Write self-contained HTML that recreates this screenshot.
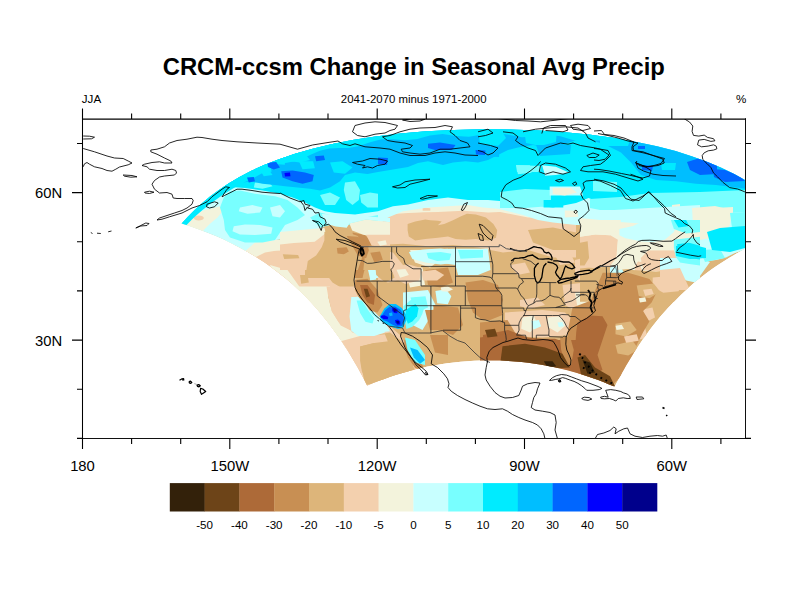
<!DOCTYPE html><html><head><meta charset="utf-8"><style>html,body{margin:0;padding:0;background:#fff;}body{width:792px;height:612px;overflow:hidden;position:relative;font-family:"Liberation Sans",sans-serif;}svg{position:absolute;left:0;top:0;}</style></head><body><svg width="792" height="612" viewBox="0 0 792 612"><defs><clipPath id="fr"><rect x="82.5" y="118.9" width="663.0" height="319.5"/></clipPath><clipPath id="dm"><polygon points="181.6,223.6 187.8,216.8 194.5,210.0 201.9,203.3 209.9,196.6 218.8,190.0 228.5,183.5 239.1,177.2 250.9,171.0 264.0,165.1 278.4,159.4 294.3,153.9 311.8,148.9 331.2,144.2 352.3,140.1 375.3,136.5 400.1,133.6 426.3,131.3 453.8,129.9 481.9,129.2 510.2,129.4 538.0,130.4 565.0,132.2 590.6,134.8 614.5,138.1 636.7,141.9 657.0,146.3 675.6,151.1 692.4,156.4 707.6,161.9 721.3,167.8 733.8,173.8 745.0,180.1 755.3,186.5 764.6,193.0 773.0,199.6 780.7,206.3 787.8,213.1 794.3,219.9 800.3,226.7 800.3,226.7 791.2,229.6 782.5,232.6 774.1,235.8 766.0,239.1 758.2,242.6 750.6,246.1 743.4,249.8 736.5,253.6 729.8,257.5 723.4,261.4 717.2,265.4 711.3,269.5 705.6,273.7 700.2,277.9 695.0,282.1 690.0,286.4 685.1,290.7 680.5,295.1 676.1,299.5 671.8,303.9 667.7,308.3 663.7,312.7 659.9,317.1 656.3,321.6 652.7,326.0 649.3,330.5 646.1,334.9 642.9,339.3 639.9,343.7 637.0,348.1 634.1,352.5 631.4,356.9 628.8,361.2 626.2,365.6 623.7,369.9 621.4,374.1 619.0,378.4 616.8,382.6 614.6,386.8 614.6,386.8 609.1,384.4 603.4,382.1 597.6,379.8 591.7,377.7 585.7,375.7 579.6,373.7 573.5,371.9 567.2,370.2 560.9,368.7 554.5,367.2 548.0,365.9 541.5,364.8 534.9,363.7 528.3,362.8 521.6,362.0 514.9,361.4 508.1,361.0 501.3,360.6 494.5,360.4 487.8,360.4 481.0,360.5 474.2,360.8 467.4,361.2 460.7,361.7 454.0,362.4 447.3,363.3 440.7,364.3 434.1,365.4 427.6,366.6 421.2,368.0 414.9,369.5 408.6,371.2 402.4,372.9 396.3,374.8 390.2,376.8 384.3,378.9 378.5,381.1 372.7,383.3 367.1,385.7 367.1,385.7 365.0,381.5 362.8,377.2 360.5,372.9 358.1,368.6 355.7,364.3 353.2,359.9 350.6,355.5 347.9,351.1 345.1,346.7 342.2,342.3 339.2,337.8 336.1,333.4 332.8,328.9 329.5,324.4 326.0,319.9 322.3,315.4 318.6,311.0 314.7,306.5 310.6,302.0 306.3,297.6 301.9,293.1 297.3,288.7 292.5,284.3 287.5,280.0 282.3,275.7 276.8,271.4 271.2,267.2 265.3,263.1 259.1,259.0 252.7,255.0 246.0,251.0 239.0,247.2 231.7,243.4 224.2,239.8 216.3,236.3 208.1,232.9 199.6,229.7 190.7,226.6 181.6,223.6"/></clipPath></defs><g clip-path="url(#fr)"><g clip-path="url(#dm)"><polygon points="181.6,223.6 187.8,216.8 194.5,210.0 201.9,203.3 209.9,196.6 218.8,190.0 228.5,183.5 239.1,177.2 250.9,171.0 264.0,165.1 278.4,159.4 294.3,153.9 311.8,148.9 331.2,144.2 352.3,140.1 375.3,136.5 400.1,133.6 426.3,131.3 453.8,129.9 481.9,129.2 510.2,129.4 538.0,130.4 565.0,132.2 590.6,134.8 614.5,138.1 636.7,141.9 657.0,146.3 675.6,151.1 692.4,156.4 707.6,161.9 721.3,167.8 733.8,173.8 745.0,180.1 755.3,186.5 764.6,193.0 773.0,199.6 780.7,206.3 787.8,213.1 794.3,219.9 800.3,226.7 800.3,226.7 791.2,229.6 782.5,232.6 774.1,235.8 766.0,239.1 758.2,242.6 750.6,246.1 743.4,249.8 736.5,253.6 729.8,257.5 723.4,261.4 717.2,265.4 711.3,269.5 705.6,273.7 700.2,277.9 695.0,282.1 690.0,286.4 685.1,290.7 680.5,295.1 676.1,299.5 671.8,303.9 667.7,308.3 663.7,312.7 659.9,317.1 656.3,321.6 652.7,326.0 649.3,330.5 646.1,334.9 642.9,339.3 639.9,343.7 637.0,348.1 634.1,352.5 631.4,356.9 628.8,361.2 626.2,365.6 623.7,369.9 621.4,374.1 619.0,378.4 616.8,382.6 614.6,386.8 614.6,386.8 609.1,384.4 603.4,382.1 597.6,379.8 591.7,377.7 585.7,375.7 579.6,373.7 573.5,371.9 567.2,370.2 560.9,368.7 554.5,367.2 548.0,365.9 541.5,364.8 534.9,363.7 528.3,362.8 521.6,362.0 514.9,361.4 508.1,361.0 501.3,360.6 494.5,360.4 487.8,360.4 481.0,360.5 474.2,360.8 467.4,361.2 460.7,361.7 454.0,362.4 447.3,363.3 440.7,364.3 434.1,365.4 427.6,366.6 421.2,368.0 414.9,369.5 408.6,371.2 402.4,372.9 396.3,374.8 390.2,376.8 384.3,378.9 378.5,381.1 372.7,383.3 367.1,385.7 367.1,385.7 365.0,381.5 362.8,377.2 360.5,372.9 358.1,368.6 355.7,364.3 353.2,359.9 350.6,355.5 347.9,351.1 345.1,346.7 342.2,342.3 339.2,337.8 336.1,333.4 332.8,328.9 329.5,324.4 326.0,319.9 322.3,315.4 318.6,311.0 314.7,306.5 310.6,302.0 306.3,297.6 301.9,293.1 297.3,288.7 292.5,284.3 287.5,280.0 282.3,275.7 276.8,271.4 271.2,267.2 265.3,263.1 259.1,259.0 252.7,255.0 246.0,251.0 239.0,247.2 231.7,243.4 224.2,239.8 216.3,236.3 208.1,232.9 199.6,229.7 190.7,226.6 181.6,223.6" fill="#DDB57A"/><polygon points="242.5,250.0 267.5,250.0 292.5,251.2 310.0,247.5 320.0,245.0 320.0,278.0 255.0,278.0 242.5,265.0" fill="#F3D0AE"/>
<polygon points="378.0,205.0 576.0,205.0 576.0,257.5 553.0,257.5 528.0,250.0 503.0,252.5 478.0,247.5 453.0,245.0 428.0,246.2 403.0,243.8 378.0,245.0" fill="#F3D0AE"/>
<polygon points="225.0,245.0 325.0,245.0 335.0,235.0 357.5,235.0 355.0,285.0 360.0,300.0 400.0,335.0 425.0,375.0 425.0,390.0 325.0,390.0 225.0,285.0" fill="#F3D0AE"/>
<polygon points="575.0,260.0 595.0,255.0 620.0,250.0 655.0,250.0 678.0,250.0 678.0,275.0 655.0,287.5 635.0,290.0 620.0,295.0 600.0,295.0 585.0,287.5 575.0,275.0" fill="#F3D0AE"/>
<polygon points="562.5,285.0 585.0,282.5 600.0,290.0 597.5,312.5 580.0,313.8 565.0,305.0" fill="#F3D0AE"/>
<polygon points="505.0,312.5 542.5,310.0 565.0,312.5 575.0,322.5 570.0,335.0 542.5,337.5 515.0,336.2 505.0,325.0" fill="#F3D0AE"/>
<polygon points="510.0,265.0 525.0,262.5 530.0,272.5 517.5,275.0" fill="#F3D0AE"/>
<polygon points="555.0,255.0 570.0,252.5 575.0,262.5 560.0,265.0" fill="#F3D0AE"/>
<polygon points="520.0,300.0 537.5,297.5 545.0,305.0 530.0,308.8 520.0,306.2" fill="#F3D0AE"/>
<polygon points="610.0,320.0 622.5,318.8 630.0,325.0 625.0,333.8 612.5,332.5" fill="#F3D0AE"/>
<polygon points="630.0,285.0 645.0,283.8 655.0,290.0 652.5,300.0 635.0,300.0" fill="#F3D0AE"/>
<polygon points="615.0,345.0 630.0,342.5 635.0,350.0 625.0,357.5 616.2,355.0" fill="#F3D0AE"/>
<polygon points="640.0,310.0 652.5,307.5 655.0,317.5 645.0,322.5 638.8,318.8" fill="#F3D0AE"/>
<polygon points="620.0,300.0 630.0,298.8 632.5,306.2 622.5,308.8" fill="#F3D0AE"/>
<polygon points="655.0,280.0 665.0,277.5 670.0,285.0 660.0,290.0" fill="#F3D0AE"/>
<polygon points="635.0,330.0 645.0,327.5 647.5,337.5 637.5,340.0" fill="#F3D0AE"/>
<polygon points="237.5,250.0 255.0,242.5 280.0,240.0 297.5,237.5 312.5,235.0 320.0,232.5 323.8,242.5 310.0,247.5 292.5,251.2 267.5,250.0 250.0,252.5" fill="#F3F3DC"/>
<polygon points="295.0,257.0 294.4,258.0 292.8,258.8 290.4,259.3 287.5,259.5 284.6,259.3 282.2,258.8 280.6,258.0 280.0,257.0 280.6,256.0 282.2,255.2 284.6,254.7 287.5,254.5 290.4,254.7 292.8,255.2 294.4,256.0" fill="#DDB57A"/>
<polygon points="301.2,255.0 300.9,255.8 299.8,256.4 298.2,256.8 296.2,257.0 294.3,256.8 292.7,256.4 291.6,255.8 291.2,255.0 291.6,254.2 292.7,253.6 294.3,253.2 296.2,253.0 298.2,253.2 299.8,253.6 300.9,254.2" fill="#DDB57A"/>
<polygon points="315.0,230.0 325.0,225.0 335.0,222.5 345.0,228.8 355.0,235.0 361.2,242.5 360.0,255.0 355.0,278.0 305.0,278.0 305.0,267.5 310.0,255.0 313.8,242.5" fill="#DDB57A"/>
<polygon points="378.0,200.0 576.0,200.0 576.0,215.0 528.0,217.5 490.5,210.0 453.0,210.0 415.5,212.5 378.0,215.0" fill="#F3F3DC"/>
<polygon points="374.7,202.5 513.6,202.5 513.6,211.3 488.4,212.6 463.1,210.7 437.9,211.9 412.6,212.6 374.7,212.6" fill="#F3F3DC"/>
<polygon points="225.0,240.0 325.0,240.0 320.0,250.0 300.0,252.5 280.0,250.0 265.0,252.5 250.0,260.0 225.0,265.0" fill="#F3F3DC"/>
<polygon points="270.0,265.0 287.5,270.0 300.0,287.5 312.5,295.0 325.0,310.0 335.0,320.0 350.0,330.0 355.0,340.0 350.0,352.5 332.5,340.0 315.0,322.5 295.0,300.0 275.0,280.0" fill="#F3F3DC"/>
<polygon points="345.0,330.0 360.0,335.0 367.5,332.5 370.0,340.0 360.0,345.0 350.0,340.0" fill="#F3F3DC"/>
<polygon points="597.5,260.0 620.0,255.0 635.0,260.0 635.0,275.0 625.0,285.0 610.0,287.5 600.0,280.0" fill="#F3F3DC"/>
<polygon points="640.0,265.0 655.0,260.0 678.0,260.0 678.0,272.5 660.0,280.0 645.0,277.5" fill="#F3F3DC"/>
<polygon points="575.0,292.5 590.0,290.0 595.0,300.0 590.0,310.0 577.5,307.5" fill="#F3F3DC"/>
<polygon points="522.5,317.5 533.8,315.5 537.5,325.0 530.0,332.5 521.2,328.8" fill="#F3F3DC"/>
<polygon points="547.5,317.5 560.0,316.2 566.2,325.0 557.5,332.5 548.8,327.5" fill="#F3F3DC"/>
<polygon points="613.8,322.5 620.0,322.0 622.5,327.5 616.2,329.5" fill="#F3F3DC"/>
<polygon points="635.0,287.5 642.5,287.0 645.0,292.5 637.5,295.0" fill="#F3F3DC"/>
<polygon points="620.0,348.8 627.5,347.5 628.8,352.5 621.2,353.8" fill="#F3F3DC"/>
<polygon points="422.7,207.5 430.3,208.2 430.3,210.7 422.7,210.7" fill="#F3D0AE"/>
<polygon points="528.0,230.0 553.0,227.5 576.0,232.5 576.0,250.0 553.0,250.0 533.0,242.5" fill="#DDB57A"/>
<polygon points="407.6,223.9 415.2,221.4 425.3,219.5 430.3,220.2 437.9,220.8 441.7,221.4 437.9,225.2 444.2,223.9 453.0,220.2 460.6,216.4 466.9,213.8 475.8,214.5 485.9,217.6 493.4,223.9 497.2,230.3 496.0,237.8 488.4,240.4 475.8,239.1 465.7,239.7 455.6,239.1 448.0,236.6 437.9,237.8 425.3,239.1 415.2,240.4 408.8,236.6 407.6,230.3" fill="#DDB57A"/>
<polygon points="307.5,255.0 322.5,245.0 332.5,237.5 355.0,237.5 357.5,250.0 355.0,267.5 353.8,287.5 345.0,290.0 332.5,282.5 325.0,272.5 312.5,265.0" fill="#DDB57A"/>
<polygon points="282.5,253.8 293.8,252.5 295.0,258.8 283.8,260.0" fill="#DDB57A"/>
<polygon points="300.0,275.0 307.5,275.0 308.8,282.5 301.2,283.8" fill="#DDB57A"/>
<polygon points="360.0,345.0 375.0,335.0 390.0,332.5 400.0,340.0 407.5,355.0 415.0,370.0 410.0,380.0 385.0,382.5 365.0,385.0 361.2,365.0" fill="#DDB57A"/>
<polygon points="325.0,295.0 332.5,292.5 340.0,300.0 332.5,307.5 325.0,305.0" fill="#DDB57A"/>
<polygon points="150.0,240.0 150.0,100.0 800.0,100.0 800.0,248.0 745.5,248.8 736.0,252.5 726.0,257.5 716.0,260.0 706.0,261.2 696.0,260.0 686.0,255.0 681.0,245.0 671.0,237.5 661.0,230.0 651.0,221.2 636.0,218.8 621.0,220.0 606.0,221.2 591.0,225.0 576.0,225.0 553.0,222.5 538.0,220.0 523.0,215.0 508.0,211.2 498.0,208.8 483.0,207.5 468.0,205.0 448.0,206.2 428.0,207.5 403.0,211.2 388.0,217.5 378.0,225.0 370.0,225.0 355.0,220.0 342.5,217.5 330.0,221.2 320.0,230.0 312.5,235.0 297.5,237.5 280.0,239.5 255.0,242.5 245.0,251.2 240.0,262.0" fill="#C8FFFF"/>
<polygon points="332.5,245.0 345.0,244.5 350.0,250.0 342.5,255.5 333.8,253.8" fill="#C88F53"/>
<polygon points="352.5,232.5 365.0,235.0 372.5,242.5 378.0,245.0 378.0,265.0 365.0,265.0 360.0,255.0 355.0,245.0" fill="#C88F53"/>
<polygon points="355.0,265.0 365.0,267.5 362.5,278.0 355.0,278.0" fill="#C88F53"/>
<polygon points="180.0,222.5 190.0,215.0 205.0,210.0 220.0,206.2 222.5,211.2 217.5,217.5 210.0,223.8 203.8,230.0 201.2,235.0 180.0,235.0" fill="#F3F3DC"/>
<polygon points="203.8,218.0 203.4,219.0 202.3,219.8 200.7,220.3 198.8,220.5 196.8,220.3 195.2,219.8 194.1,219.0 193.8,218.0 194.1,217.0 195.2,216.2 196.8,215.7 198.8,215.5 200.7,215.7 202.3,216.2 203.4,217.0" fill="#F3D0AE"/>
<polygon points="220.0,207.5 223.8,197.5 230.0,191.2 240.0,190.5 255.0,193.8 275.0,196.2 287.5,200.0 297.5,207.5 305.0,215.0 297.5,220.0 285.0,225.0 280.0,232.5 275.0,240.0 262.5,242.5 245.0,242.5 230.0,237.5 225.0,230.0 223.8,220.0" fill="#78FFFF"/>
<polygon points="310.0,217.5 320.0,212.5 330.0,215.0 340.0,218.8 352.5,220.0 365.0,217.5 378.0,215.0 378.0,225.0 365.0,227.5 352.5,225.0 340.0,223.8 330.0,225.0 320.0,227.5" fill="#78FFFF"/>
<polygon points="233.8,226.2 245.0,224.5 260.0,225.0 272.5,227.5 271.2,233.8 255.0,235.0 240.0,234.5 232.5,231.2" fill="#C8FFFF"/>
<polygon points="240.0,207.5 252.5,205.0 262.5,207.5 260.0,212.5 247.5,213.8 238.8,211.2" fill="#C8FFFF"/>
<polygon points="270.0,207.5 280.0,205.0 285.0,211.2 280.0,217.5 272.5,216.2" fill="#C8FFFF"/>
<polygon points="150.0,240.0 150.0,100.0 800.0,100.0 800.0,195.0 745.5,195.0 736.0,195.0 721.0,196.2 706.0,197.5 691.0,198.8 676.0,200.0 661.0,200.0 646.0,200.0 631.0,200.0 616.0,202.5 601.0,202.5 588.5,198.0 576.0,203.0 553.0,207.5 533.0,205.0 518.0,202.5 503.0,201.2 488.0,200.0 468.0,200.0 448.0,197.5 428.0,200.0 408.0,204.5 393.0,206.2 378.0,211.2 365.0,213.0 355.0,214.5 345.0,213.8 335.0,213.0 325.0,211.2 315.0,207.5 305.0,202.5 292.5,197.5 280.0,193.8 262.5,190.5 245.0,188.0 230.0,187.0 220.0,190.5 207.5,200.0 175.0,230.0" fill="#00EBFF"/>
<polygon points="345.0,182.5 355.0,181.2 360.0,190.0 358.8,200.0 352.5,205.0 346.2,200.0 343.8,190.0" fill="#78FFFF"/>
<polygon points="360.0,195.0 370.0,192.5 378.0,193.8 378.0,207.5 367.5,207.5 361.2,202.5" fill="#78FFFF"/>
<polygon points="320.0,195.0 330.0,192.5 340.0,197.5 335.0,205.0 325.0,205.0" fill="#78FFFF"/>
<polygon points="255.0,182.5 267.5,181.2 272.5,186.2 262.5,188.8 253.8,187.5" fill="#78FFFF"/>
<polygon points="590.0,199.0 620.0,197.0 650.0,193.0 700.0,192.0 745.0,190.0 745.0,215.0 700.0,212.0 650.0,210.0 600.0,210.0 590.0,208.0" fill="#78FFFF"/>
<polygon points="516.0,165.0 541.0,166.0 540.0,172.0 517.0,172.0" fill="#78FFFF"/>
<polygon points="500.0,192.0 525.0,189.0 551.0,190.0 551.0,206.0 525.0,208.0 500.0,208.0" fill="#78FFFF"/>
<polygon points="593.0,181.0 617.0,182.0 617.0,192.0 593.0,191.0" fill="#78FFFF"/>
<polygon points="516.4,165.2 530.0,165.2 531.5,172.7 517.9,174.2" fill="#78FFFF"/>
<polygon points="542.1,165.2 555.8,166.7 569.4,172.7 555.8,175.0 545.2,175.8" fill="#C8FFFF"/>
<polygon points="549.7,186.4 580.0,186.4 583.0,195.5 549.7,195.5" fill="#C8FFFF"/>
<polygon points="555.8,207.6 589.1,207.6 589.1,219.7 555.8,219.7" fill="#C8FFFF"/>
<polygon points="543.6,200.0 563.3,200.0 563.3,207.6 543.6,207.6" fill="#00EBFF"/>
<polygon points="557.0,190.0 571.0,190.0 571.0,194.0 557.0,194.0" fill="#F3F3DC"/>
<polygon points="672.0,205.0 680.0,204.0 680.0,209.0 672.0,209.0" fill="#F3F3DC"/>
<polygon points="715.0,208.0 733.0,207.0 733.0,215.0 715.0,215.0" fill="#F3F3DC"/>
<polygon points="552.7,187.9 570.9,187.9 577.0,192.4 564.8,195.5 552.7,193.9" fill="#F3F3DC"/>
<polygon points="564.8,210.6 577.0,210.6 578.5,216.7 564.8,217.4" fill="#F3F3DC"/>
<polygon points="150.0,240.0 150.0,100.0 800.0,100.0 800.0,190.0 745.5,188.8 736.0,187.5 716.0,185.0 696.0,183.8 676.0,181.2 656.0,180.0 641.0,175.0 631.0,162.5 621.0,152.5 606.0,145.0 591.0,140.0 576.0,140.0 563.0,145.0 548.0,147.5 533.0,145.0 518.0,147.5 508.0,150.0 498.0,155.0 488.0,160.0 478.0,162.5 465.5,161.2 453.0,162.5 443.0,165.0 428.0,161.2 418.0,163.0 408.0,167.0 393.0,169.5 378.0,172.0 367.5,174.0 355.0,172.5 345.0,175.0 340.0,181.2 330.0,187.5 320.0,190.5 310.0,188.8 297.5,187.5 285.0,186.2 275.0,185.0 262.5,183.8 250.0,181.2 237.5,183.8 222.5,187.5 190.0,200.0" fill="#00BEFF"/>
<polygon points="181.6,220.6 184.4,217.4 187.4,214.2 190.5,211.0 193.7,207.8 197.1,204.6 200.5,201.5 204.2,198.3 208.0,195.2 211.9,192.1 216.1,188.9 220.4,185.9 224.9,182.8 229.7,179.8 234.6,176.8 239.8,173.8 245.3,170.9 250.9,168.0 256.9,165.2 263.2,162.4 269.7,159.7 276.6,157.0 283.8,154.4 291.4,151.9 299.3,149.4 307.6,147.0 316.3,144.7 325.4,142.5 334.8,140.5 344.7,138.5 342.7,143.5 332.8,145.5 323.4,147.5 314.3,149.7 305.6,152.0 297.3,154.4 289.4,157.6 281.8,161.6 274.6,165.7 267.7,169.7 261.2,173.8 254.9,177.2 248.9,180.0 243.3,182.9 237.8,185.8 232.6,188.8 227.7,191.8 222.9,194.8 218.4,197.9 214.1,200.9 209.9,204.1 206.0,207.2 202.2,210.3 198.5,213.5 195.1,216.6 191.7,219.8 188.5,223.0 185.4,226.2 182.4,229.4 179.6,232.6" fill="#00EBFF"/>
<polygon points="290.0,155.0 305.0,153.8 310.0,160.0 300.0,162.5 290.0,161.2" fill="#00EBFF"/>
<polygon points="330.0,162.5 342.5,161.2 352.5,167.5 345.0,173.8 333.8,172.5" fill="#00EBFF"/>
<polygon points="260.0,170.0 270.0,171.2 272.5,175.0 263.8,176.2" fill="#00EBFF"/>
<polygon points="478.0,130.0 500.0,128.0 506.0,138.0 498.0,146.0 480.0,144.0" fill="#00EBFF"/>
<polygon points="524.0,129.0 557.0,129.0 556.0,142.0 540.0,146.0 526.0,143.0" fill="#00EBFF"/>
<polygon points="581.0,133.0 593.0,133.0 594.0,144.0 582.0,145.0" fill="#00EBFF"/>
<polygon points="600.0,134.0 630.0,140.0 628.0,146.0 600.0,146.0" fill="#00EBFF"/>
<polygon points="661.0,163.0 676.0,163.0 675.0,170.0 662.0,170.0" fill="#00EBFF"/>
<polygon points="480.0,145.0 500.0,146.0 499.0,157.0 480.0,156.0" fill="#00BEFF"/>
<polygon points="536.0,145.0 571.0,145.0 570.0,154.0 540.0,156.0" fill="#00BEFF"/>
<polygon points="258.3,166.5 270.7,166.5 271.6,171.8 259.2,172.2" fill="#00EBFF"/>
<polygon points="274.2,155.9 284.9,156.8 284.9,164.7 275.1,163.9" fill="#00EBFF"/>
<polygon points="288.4,150.6 299.0,151.0 299.0,157.7 289.3,157.3" fill="#00EBFF"/>
<polygon points="299.0,161.2 313.1,161.2 314.9,168.3 302.5,169.2" fill="#00EBFF"/>
<polygon points="226.9,181.5 231.8,178.5 236.8,175.5 242.1,172.6 247.6,169.7 253.4,166.8 259.5,164.0 265.9,161.3 272.6,158.6 279.6,155.9 286.9,153.3 294.6,150.8 302.7,148.4 311.1,146.1 319.9,143.8 329.2,141.7 338.8,139.6 348.8,137.7 359.3,135.9 370.1,134.2 381.4,132.7 393.0,131.3 405.0,130.1 417.3,129.0 429.8,128.1 442.7,127.4 455.7,126.8 468.9,126.4 482.2,126.2 495.5,126.2 508.7,126.4 521.9,126.7 535.0,127.3 547.8,128.0 560.5,128.9 572.8,129.9 584.8,131.2 596.5,132.5 607.8,134.1 618.7,135.7 618.7,143.5 607.8,140.6 596.5,140.4 584.8,141.3 572.8,139.9 560.5,136.3 547.8,134.6 535.0,136.3 521.9,137.2 508.7,134.8 495.5,132.7 482.2,134.4 468.9,136.8 455.7,136.0 442.7,134.1 429.8,135.4 417.3,138.9 405.0,140.3 393.0,139.2 381.4,139.2 370.1,142.2 359.3,146.0 348.8,148.0 338.8,148.0 329.2,148.4 319.9,150.7 311.1,154.6 302.7,158.5 294.6,161.3 286.9,162.7 279.6,163.7 272.6,165.2 265.9,167.8 259.5,171.5 253.4,175.6 247.6,179.6 242.1,183.0 236.8,185.9 231.8,188.2 226.9,190.2" fill="#00EBFF"/>
<polygon points="267.5,162.5 276.2,162.0 280.0,167.5 273.8,169.5 268.0,167.0" fill="#0066FF"/>
<polygon points="281.2,171.2 292.5,170.5 305.0,172.5 313.8,175.0 312.5,181.2 302.5,183.8 292.5,181.2 282.5,177.5" fill="#0066FF"/>
<polygon points="247.0,177.5 253.8,177.0 255.0,181.2 248.8,182.5" fill="#0066FF"/>
<polygon points="315.0,156.2 323.8,155.5 325.0,160.0 316.2,161.2" fill="#0066FF"/>
<polygon points="687.0,162.0 700.0,158.0 717.0,163.0 717.0,174.0 700.0,175.0 690.0,170.0" fill="#0066FF"/>
<polygon points="713.0,169.0 725.0,170.0 740.0,176.0 745.0,181.0 725.0,182.0 714.0,177.0" fill="#0066FF"/>
<polygon points="638.0,146.0 645.0,146.0 645.0,149.0 638.0,149.0" fill="#0066FF"/>
<polygon points="642.0,165.0 653.0,166.0 652.0,171.0 642.0,170.0" fill="#0066FF"/>
<polygon points="428.0,143.8 440.0,142.5 455.5,145.0 452.0,150.0 435.0,150.0 428.0,148.0" fill="#0066FF"/>
<polygon points="475.5,150.0 485.5,150.5 485.0,155.0 476.0,154.5" fill="#0066FF"/>
<polygon points="378.0,157.5 388.0,158.0 387.0,165.0 378.0,164.0" fill="#0066FF"/>
<polygon points="284.5,173.0 290.0,172.5 290.5,176.2 285.0,176.5" fill="#0000FF"/>
<polygon points="580.0,212.0 700.0,205.0 700.0,232.0 580.0,232.0" fill="#C8FFFF"/>
<polygon points="580.0,218.0 620.0,222.0 660.0,225.0 700.0,228.0 700.0,245.0 640.0,262.0 580.0,240.0" fill="#F3F3DC"/>
<polygon points="580.0,268.5 610.3,265.5 633.0,270.0 655.8,271.5 670.9,270.0 678.5,277.6 686.1,285.2 686.1,301.8 580.0,301.8" fill="#DDB57A"/>
<polygon points="652.7,277.6 670.9,276.1 683.0,283.6 678.5,291.2 663.3,292.7 652.7,286.7" fill="#F3D0AE"/>
<polygon points="580.0,236.7 595.2,234.4 610.3,235.2 617.9,239.7 616.4,257.9 610.3,265.5 595.2,268.5 580.0,265.5" fill="#F3D0AE"/>
<polygon points="648.2,250.3 664.8,250.3 673.9,250.3 677.0,262.4 670.9,270.0 655.8,271.5 643.6,270.0 640.6,257.9" fill="#F3D0AE"/>
<polygon points="580.0,242.7 587.6,241.2 589.1,257.9 584.5,265.5 580.0,265.5" fill="#DDB57A"/>
<polygon points="423.0,250.0 453.0,248.8 488.0,248.8 490.5,270.0 478.0,275.0 458.0,275.0 455.5,265.0 438.0,262.5 423.0,260.0" fill="#C8FFFF"/>
<polygon points="403.0,292.5 428.0,290.0 435.5,305.0 428.0,317.5 410.5,325.0 403.0,315.0" fill="#C8FFFF"/>
<polygon points="352.5,297.5 360.0,296.2 372.5,310.0 385.0,322.5 390.0,331.2 375.0,333.0 362.5,325.0 355.0,315.0" fill="#C8FFFF"/>
<polygon points="367.5,267.5 380.0,267.5 381.2,277.5 370.0,278.8" fill="#C8FFFF"/>
<polygon points="425.0,250.0 448.0,248.8 448.0,262.5 430.0,260.0" fill="#C8FFFF"/>
<polygon points="405.0,267.5 422.5,267.5 425.0,285.0 410.0,287.5" fill="#F3F3DC"/>
<polygon points="410.0,297.5 425.0,297.5 430.0,317.5 422.5,330.0 412.5,325.0" fill="#C8FFFF"/>
<polygon points="610.0,267.5 620.0,265.0 625.0,275.0 617.5,282.5 610.0,280.0" fill="#C8FFFF"/>
<polygon points="531.2,321.2 538.8,320.0 541.2,326.2 533.8,329.5" fill="#C8FFFF"/>
<polygon points="557.5,322.5 562.5,322.0 563.8,326.2 558.8,327.0" fill="#C8FFFF"/>
<polygon points="580.0,220.0 620.9,220.0 619.4,229.1 610.3,235.2 595.2,234.4 580.0,236.7" fill="#F3F3DC"/>
<polygon points="617.9,239.7 640.6,241.2 652.7,242.0 664.8,239.7 673.9,238.2 673.9,250.3 664.8,250.3 648.2,250.3 640.6,257.9 633.0,268.5 617.9,270.0 616.4,257.9" fill="#F3F3DC"/>
<polygon points="630.0,282.1 636.1,280.6 637.6,285.2 631.5,286.7" fill="#F3F3DC"/>
<polygon points="435.5,252.5 453.0,251.2 453.0,260.0 438.0,258.8" fill="#78FFFF"/>
<polygon points="458.0,250.0 483.0,250.0 483.0,257.5 460.5,258.8" fill="#78FFFF"/>
<polygon points="410.5,297.5 425.5,296.2 428.0,307.5 415.5,312.5" fill="#78FFFF"/>
<polygon points="360.0,305.0 367.5,307.5 377.5,317.5 380.0,326.2 370.0,325.0 362.5,315.0" fill="#78FFFF"/>
<polygon points="619.4,229.1 633.0,226.1 645.2,220.0 678.5,220.0 673.9,232.1 664.8,239.7 652.7,242.0 640.6,241.2 625.5,238.2 619.4,235.2" fill="#C8FFFF"/>
<polygon points="670.9,262.4 700.0,262.4 700.0,283.6 686.1,280.6 677.0,273.0" fill="#C8FFFF"/>
<polygon points="610.3,275.3 620.9,274.5 622.4,279.8 611.8,280.6" fill="#C8FFFF"/>
<polygon points="700.0,215.0 745.0,212.0 745.0,250.0 700.0,262.0" fill="#C8FFFF"/>
<polygon points="660.0,258.0 700.0,258.0 710.0,262.0 700.0,276.0 660.0,278.0" fill="#C8FFFF"/>
<polygon points="692.0,208.0 715.0,206.0 732.0,210.0 730.0,225.0 720.0,236.0 700.0,240.0 693.0,225.0" fill="#F3F3DC"/>
<polygon points="660.0,270.0 680.0,268.0 690.0,290.0 660.0,290.0" fill="#F3D0AE"/>
<polygon points="673.9,239.7 686.1,238.2 700.0,236.7 700.0,265.5 689.1,263.9 680.0,262.4 675.5,256.4 673.9,247.3" fill="#78FFFF"/>
<polygon points="670.9,220.0 700.0,220.0 700.0,232.1 686.1,233.6 673.9,229.1" fill="#78FFFF"/>
<polygon points="730.0,213.0 745.0,212.0 745.0,228.0 732.0,228.0" fill="#78FFFF"/>
<polygon points="700.0,250.0 720.0,249.0 725.0,258.0 705.0,262.0" fill="#78FFFF"/>
<polygon points="677.0,244.2 689.1,242.7 700.0,245.8 700.0,259.4 689.1,257.9 680.0,254.8" fill="#00EBFF"/>
<polygon points="673.9,220.0 686.1,220.0 689.1,226.1 678.5,227.6" fill="#00EBFF"/>
<polygon points="707.0,232.0 720.0,228.0 745.0,226.0 745.0,248.0 730.0,252.0 712.0,250.0" fill="#00EBFF"/>
<polygon points="676.0,246.0 690.0,244.0 706.0,248.0 706.0,258.0 690.0,259.0 676.0,256.0" fill="#00EBFF"/>
<polygon points="465.5,282.5 483.0,280.0 498.0,285.0 503.0,300.0 498.0,315.0 483.0,320.0 473.0,312.5 468.0,300.0" fill="#C88F53"/>
<polygon points="378.0,250.0 393.0,252.5 403.0,265.0 400.5,280.0 388.0,282.5 378.0,280.0" fill="#F3D0AE"/>
<polygon points="425.5,270.0 448.0,267.5 453.0,282.5 440.5,287.5 428.0,285.0" fill="#C88F53"/>
<polygon points="433.0,305.0 458.0,307.5 463.0,325.0 453.0,335.0 438.0,330.0" fill="#C88F53"/>
<polygon points="355.0,280.0 367.5,278.8 377.5,290.0 382.5,305.0 377.5,312.5 367.5,310.0 360.0,300.0 355.0,290.0" fill="#C88F53"/>
<polygon points="350.0,250.0 360.0,247.5 367.5,260.0 365.0,270.0 357.5,272.5 350.0,265.0" fill="#C88F53"/>
<polygon points="375.0,265.0 390.0,267.5 395.0,277.5 385.0,282.5 376.2,275.0" fill="#DDB57A"/>
<polygon points="410.0,250.0 430.0,250.0 440.0,260.0 430.0,267.5 415.0,262.5" fill="#F3F3DC"/>
<polygon points="425.0,310.0 448.0,310.0 448.0,330.0 430.0,330.0" fill="#C88F53"/>
<polygon points="430.0,335.0 448.0,335.0 448.0,355.0 435.0,352.5" fill="#C88F53"/>
<polygon points="480.0,287.5 492.5,286.2 500.0,300.0 502.5,315.0 490.0,320.0 480.0,320.0" fill="#C88F53"/>
<polygon points="480.0,322.5 507.5,320.0 515.0,332.5 510.0,350.0 495.0,357.5 480.0,360.0" fill="#C88F53"/>
<polygon points="572.5,307.5 592.5,300.0 615.0,303.8 622.5,315.0 620.0,330.0 615.0,345.0 616.2,362.5 622.5,375.0 612.5,385.0 585.0,382.5 570.0,362.5 567.5,332.5" fill="#C88F53"/>
<polygon points="408.9,252.1 423.0,249.4 440.7,248.5 454.9,250.3 454.9,262.7 440.7,264.4 426.6,262.7 412.4,259.1" fill="#C8FFFF"/>
<polygon points="393.0,266.2 408.9,264.4 421.3,268.0 419.5,280.4 405.4,283.9 394.7,278.6" fill="#F3D0AE"/>
<polygon points="435.4,291.0 446.0,289.2 451.3,296.3 447.8,304.2 437.2,303.3" fill="#C8FFFF"/>
<polygon points="440.7,287.4 447.8,286.5 453.1,289.2 447.8,291.8 441.6,291.3" fill="#F3F3DC"/>
<polygon points="370.0,255.6 380.6,253.8 389.4,259.1 387.7,268.0 377.1,269.7 370.0,266.2" fill="#F3D0AE"/>
<polygon points="421.3,271.5 435.4,269.7 444.2,275.1 437.2,280.4 423.0,280.4" fill="#F3D0AE"/>
<polygon points="602.7,272.7 628.2,272.7 649.4,279.1 657.9,289.7 651.6,302.5 643.1,311.0 649.4,321.6 643.1,332.2 636.7,344.9 632.5,359.8 624.0,374.6 611.2,381.0 590.0,378.9 590.0,302.5" fill="#C88F53"/>
<polygon points="426.6,253.0 440.7,252.1 451.3,253.8 449.5,260.0 437.2,260.9 428.3,258.3" fill="#78FFFF"/>
<polygon points="396.5,269.7 405.4,268.9 408.9,275.1 400.1,277.7" fill="#F3F3DC"/>
<polygon points="370.0,269.7 375.3,269.7 376.2,279.5 370.0,280.4" fill="#C8FFFF"/>
<polygon points="636.7,285.5 653.7,283.4 660.1,291.8 649.4,298.2 638.8,296.1" fill="#DDB57A"/>
<polygon points="615.5,323.7 630.3,321.6 636.7,330.1 626.1,336.4 615.5,334.3" fill="#DDB57A"/>
<polygon points="615.5,344.9 632.5,340.7 638.8,349.2 628.2,355.5 617.6,353.4" fill="#DDB57A"/>
<polygon points="643.1,289.7 651.6,288.7 653.7,294.0 645.2,296.1" fill="#F3D0AE"/>
<polygon points="624.0,336.4 636.7,334.3 638.8,340.7 626.1,342.8" fill="#F3D0AE"/>
<polygon points="615.5,325.8 621.8,324.8 624.0,329.0 616.5,330.1" fill="#F3F3DC"/>
<polygon points="638.8,298.2 645.2,297.2 646.3,301.4 639.9,302.5" fill="#F3F3DC"/>
<polygon points="483.0,335.0 508.0,330.0 528.0,337.5 553.0,340.0 576.0,340.0 576.0,353.0 483.0,353.0" fill="#AD6A38"/>
<polygon points="360.0,285.0 367.5,285.0 375.0,295.0 373.8,305.0 367.5,302.5 362.5,295.0" fill="#AD6A38"/>
<polygon points="577.5,322.5 590.0,315.5 602.5,316.2 607.5,325.0 602.5,340.0 597.5,355.0 602.5,370.0 592.5,375.0 580.0,367.5 575.0,350.0 576.2,332.5" fill="#AD6A38"/>
<polygon points="480.0,337.5 505.0,333.8 530.0,338.8 555.0,338.8 572.5,345.0 585.0,360.0 600.0,377.5 615.0,386.2 555.0,390.0 480.0,380.0" fill="#AD6A38"/>
<polygon points="280.0,241.7 314.7,240.3 325.8,233.3 328.6,270.0 280.0,270.0" fill="#F3D0AE"/>
<polygon points="321.7,213.9 349.4,215.3 390.0,218.1 390.0,222.2 366.1,219.4 349.4,223.6 346.7,227.8 335.6,226.4 325.8,223.6" fill="#C8FFFF"/>
<polygon points="280.0,231.9 300.8,229.9 324.4,227.8 325.8,233.3 314.7,241.7 293.9,243.1 280.0,244.4" fill="#F3F3DC"/>
<polygon points="349.4,223.6 366.1,219.4 390.0,222.2 390.0,236.1 377.2,237.5 363.3,234.7 352.2,230.6" fill="#F3F3DC"/>
<polygon points="366.1,234.7 390.0,234.7 390.0,247.2 371.7,245.8" fill="#F3D0AE"/>
<polygon points="324.4,231.9 335.6,228.5 346.7,231.9 357.8,236.1 363.3,245.8 361.9,258.3 357.8,270.0 306.4,270.0 307.8,261.1 316.1,255.6 321.7,247.2 324.4,240.3" fill="#DDB57A"/>
<polygon points="282.8,254.2 298.1,254.9 299.4,258.3 284.2,259.0" fill="#DDB57A"/>
<polygon points="368.9,245.8 390.0,245.8 390.0,270.0 363.3,270.0 364.7,258.3" fill="#DDB57A"/>
<polygon points="336.9,247.9 346.7,247.2 348.8,251.4 343.9,254.2 337.6,253.5" fill="#C88F53"/>
<polygon points="346.7,236.1 357.8,236.8 366.1,241.7 368.9,250.0 366.1,258.3 357.8,255.6 352.2,245.8" fill="#C88F53"/>
<polygon points="370.3,252.8 380.0,251.4 382.8,259.7 374.4,262.5" fill="#C88F53"/>
<polygon points="377.2,241.7 385.6,240.3 386.9,244.4 380.0,245.8" fill="#F3F3DC"/>
<polygon points="560.0,337.5 570.0,336.2 573.8,350.0 571.2,365.0 565.0,363.8 561.2,350.0" fill="#C88F53"/>
<polygon points="289.4,286.5 330.1,286.5 328.3,297.1 331.8,311.2 340.7,325.4 351.3,330.7 353.0,336.0 346.0,341.3 340.7,343.0 289.4,343.0" fill="#F3F3DC"/>
<polygon points="326.5,286.5 354.8,286.5 353.0,300.6 349.5,311.2 347.7,325.4 351.3,330.7 340.7,325.4 331.8,311.2 328.3,297.1" fill="#F3D0AE"/>
<polygon points="340.7,341.3 360.1,336.0 384.9,334.2 388.4,343.0 374.2,343.0 360.1,346.6 353.0,357.2 358.3,371.3 367.2,389.0 335.4,389.0" fill="#F3D0AE"/>
<polygon points="351.3,297.1 358.3,297.1 365.4,304.1 372.5,314.7 379.5,320.1 383.1,325.4 384.9,332.4 374.2,336.0 358.3,336.0 351.3,330.7 349.5,316.5" fill="#C8FFFF"/>
<polygon points="356.6,300.6 361.9,300.6 368.9,311.2 374.2,318.3 372.5,323.6 365.4,321.8 360.1,313.0" fill="#78FFFF"/>
<polygon points="360.1,346.6 374.2,343.0 388.4,341.3 399.0,339.5 406.1,344.8 411.4,355.4 413.1,366.0 409.6,374.9 391.9,378.4 374.2,381.9 367.2,381.9 361.9,371.3 360.1,360.7" fill="#DDB57A"/>
<polygon points="404.3,339.5 409.6,343.0 414.9,351.9 420.2,360.7 423.7,367.8 422.0,371.3 414.9,367.8 407.8,357.2 404.3,346.6" fill="#C88F53"/>
<polygon points="363.8,288.8 367.5,288.8 370.0,296.2 366.2,297.5" fill="#6D4418"/>
<polygon points="502.5,346.2 525.0,343.8 545.0,347.5 562.5,353.8 570.0,367.5 530.0,370.0 500.0,365.0" fill="#6D4418"/>
<polygon points="577.5,357.5 585.0,355.0 595.0,367.5 610.0,376.2 615.0,386.2 597.5,390.0 581.2,375.0" fill="#6D4418"/>
<polygon points="485.0,330.0 495.0,328.8 497.5,336.2 487.5,337.5" fill="#6D4418"/>
<polygon points="543.8,361.2 552.5,361.2 556.2,366.2 547.5,367.5" fill="#33210A"/>
<polygon points="582.5,360.0 590.0,362.5 595.0,372.5 587.5,373.8" fill="#33210A"/>
<polygon points="405.0,337.5 415.0,340.0 425.0,355.0 425.0,365.0 415.0,362.5 407.5,350.0" fill="#78FFFF"/>
<polygon points="403.3,306.4 409.4,301.1 415.5,297.3 423.0,299.5 424.5,306.4 422.3,313.9 419.2,320.0 412.4,326.8 406.4,329.1 404.8,320.0" fill="#78FFFF"/>
<polygon points="405.6,310.2 410.9,306.4 415.5,304.1 418.5,308.6 417.0,316.2 412.4,321.5 407.9,323.8 405.6,317.7" fill="#00EBFF"/>
<polygon points="410.0,347.5 417.5,350.0 425.0,360.0 420.0,363.8 413.8,357.5" fill="#00BEFF"/>
<polygon points="379.8,316.2 384.4,308.6 389.7,304.1 395.8,304.1 401.8,307.9 405.6,313.9 406.4,320.0 403.3,327.6 398.0,329.1 391.2,326.8 385.2,323.8 380.6,320.8" fill="#00BEFF"/>
<polygon points="381.4,316.2 385.2,310.2 389.7,306.4 395.0,306.4 400.3,309.4 403.3,314.7 404.1,320.0 401.8,326.1 397.3,326.8 392.0,324.5 387.4,321.5 382.9,320.0" fill="#0066FF"/>
<polygon points="388.9,313.2 392.0,312.4 392.7,315.5 389.7,316.2" fill="#00BEFF"/>
<polygon points="380.6,315.8 384.4,315.3 388.2,317.0 387.8,319.2 383.6,319.1 381.0,317.7" fill="#0000FF"/>
<polygon points="392.0,308.3 395.0,307.7 397.7,309.8 397.3,313.2 394.2,313.0 392.3,310.9" fill="#0000FF"/>
<polygon points="395.0,320.0 398.0,319.6 400.3,321.5 400.3,324.5 397.3,324.7 395.4,322.3" fill="#0000FF"/>
<polygon points="393.1,309.0 395.8,309.0 396.5,311.3 394.2,312.0" fill="#00008C"/>
<polygon points="396.1,321.1 398.8,321.1 399.2,323.4 396.9,323.6" fill="#00008C"/></g><path d="M83.2,136.0 L89.5,136.2 L94.5,137.2 L91.5,138.8 L83.2,139.0" fill="none" stroke="#000" stroke-width="0.85" stroke-linejoin="round"/>
<path d="M83.2,148.5 L94.5,151.8 L107.0,156.0 L114.5,158.0 L123.2,158.5 L128.2,161.0 L132.0,163.0 L128.2,164.8 L119.5,167.0 L115.8,169.2 L112.0,171.2 L107.0,170.5 L102.0,168.5 L94.5,166.8 L89.5,164.2 L87.0,162.5 L84.5,163.8 L83.2,166.8" fill="none" stroke="#000" stroke-width="0.85" stroke-linejoin="round"/>
<path d="M123.2,175.0 L132.0,175.5 L137.0,176.8 L130.8,177.2 L124.5,176.2 Z" fill="none" stroke="#000" stroke-width="0.85" stroke-linejoin="round"/>
<path d="M280.0,144.2 L257.0,143.0 L237.0,141.8 L222.0,140.5 L212.0,139.2 L202.0,137.5 L197.0,137.2 L187.0,139.2 L177.0,140.5 L169.5,143.0 L164.5,146.8 L157.0,149.2 L150.8,150.0 L150.8,151.8 L157.0,154.2 L164.5,158.0 L170.8,161.0 L172.0,163.0 L164.5,163.0 L159.5,161.8 L152.0,162.5 L144.5,164.2 L142.0,165.5 L147.0,166.8 L149.5,169.2 L157.0,170.5 L164.5,170.5 L172.0,169.2 L175.8,170.5 L176.5,173.0 L174.5,175.0 L164.5,176.0 L159.5,177.0 L154.5,180.5 L152.0,184.2 L154.5,189.2 L159.5,193.0 L167.0,192.5 L172.0,194.2 L173.2,198.0 L177.0,198.5 L184.5,198.5 L192.0,198.5 L193.2,200.5 L192.0,204.2 L187.0,208.0 L182.0,210.5 L174.5,213.0 L167.0,215.5 L159.5,218.0 L157.0,220.0 L162.0,219.2 L169.5,216.8 L182.0,213.0 L192.0,208.0 L199.5,205.5 L207.0,201.8 L212.0,196.8 L217.0,193.0 L222.0,189.2 L225.8,186.8 L229.5,187.5 L227.0,189.2 L224.5,193.0 L222.0,196.8 L224.5,195.5 L232.0,191.8 L237.0,189.2 L242.0,189.2 L252.0,190.5 L262.0,192.2 L272.0,193.0 L280.0,193.5" fill="none" stroke="#000" stroke-width="0.85" stroke-linejoin="round"/>
<path d="M207.0,204.2 L214.5,201.8 L218.2,203.0 L214.5,206.8 L209.5,208.0 L206.5,206.8 Z" fill="none" stroke="#000" stroke-width="0.85" stroke-linejoin="round"/>
<path d="M144.5,192.2 L149.5,191.2 L154.0,192.2 L149.5,193.5 L145.0,193.0 Z" fill="none" stroke="#000" stroke-width="0.85" stroke-linejoin="round"/>
<path d="M135.8,228.0 L140.8,225.5 L145.8,223.0 L149.0,223.5 L147.0,225.5 L140.8,226.0 Z" fill="none" stroke="#000" stroke-width="0.85" stroke-linejoin="round"/>
<path d="M90.8,232.5 L92.5,233.5" fill="none" stroke="#000" stroke-width="0.85" stroke-linejoin="round"/>
<path d="M97.0,233.2 L100.8,233.5" fill="none" stroke="#000" stroke-width="0.85" stroke-linejoin="round"/>
<path d="M108.2,231.8 L111.5,231.0" fill="none" stroke="#000" stroke-width="0.85" stroke-linejoin="round"/>
<path d="M280.0,144.2 L297.5,149.2 L312.5,145.0 L330.0,142.2 L338.0,141.0 L342.5,143.8 L350.0,145.5 L355.0,143.8 L365.0,146.8 L380.0,148.0 L390.0,149.2 L400.0,153.0 L410.0,155.5 L425.0,155.5 L435.0,153.0 L445.0,151.8 L455.0,153.0 L465.0,155.0 L478.0,155.5" fill="none" stroke="#000" stroke-width="0.85" stroke-linejoin="round"/>
<path d="M355.0,125.5 L365.0,123.0 L375.0,121.8 L385.0,122.5 L397.5,125.5 L395.0,129.2 L390.0,130.5 L385.0,133.0 L375.0,134.2 L365.0,136.8 L357.5,135.5 L352.5,131.8 Z" fill="none" stroke="#000" stroke-width="0.85" stroke-linejoin="round"/>
<path d="M382.5,136.8 L390.0,135.5 L400.0,131.8 L410.0,129.2 L420.0,128.0 L435.0,127.5 L445.0,125.5 L452.5,126.8 L450.0,131.8 L455.0,135.5 L460.0,140.5 L467.5,143.0 L470.0,146.8 L460.0,148.0 L450.0,149.2 L440.0,149.2 L430.0,153.0 L420.0,154.2 L410.0,153.0 L402.5,151.8 L401.2,149.2 L410.0,148.0 L412.5,145.5 L405.0,143.0 L395.0,141.8 L387.5,140.5 Z" fill="none" stroke="#000" stroke-width="0.85" stroke-linejoin="round"/>
<path d="M402.5,120.0 L412.5,118.8 L425.0,119.2 L420.0,121.0 L410.0,121.5 Z" fill="none" stroke="#000" stroke-width="0.85" stroke-linejoin="round"/>
<path d="M352.5,162.5 L362.5,161.0 L370.0,158.5 L380.0,159.2 L387.5,161.0 L385.0,164.2 L377.5,165.5 L372.5,168.0 L367.5,166.8 L362.5,168.0 L365.0,165.5 L357.5,164.2 Z" fill="none" stroke="#000" stroke-width="0.85" stroke-linejoin="round"/>
<path d="M392.5,186.8 L400.0,185.0 L405.0,181.8 L415.0,180.0 L430.0,179.2 L420.0,181.8 L410.0,184.2 L405.0,187.5 L397.5,188.0 Z" fill="none" stroke="#000" stroke-width="0.85" stroke-linejoin="round"/>
<path d="M420.0,198.5 L427.5,195.5 L437.5,196.0 L430.0,197.5 L422.5,199.2 Z" fill="none" stroke="#000" stroke-width="0.85" stroke-linejoin="round"/>
<path d="M461.2,210.0 L463.8,204.2 L467.5,202.5 L465.5,206.8 L463.0,210.5 Z" fill="none" stroke="#000" stroke-width="0.85" stroke-linejoin="round"/>
<path d="M280.0,193.0 L290.0,198.0 L300.0,201.8 L303.8,200.5 L305.0,204.2 L310.0,205.5 L307.5,208.0 L312.5,209.2 L315.0,213.0 L318.8,212.5 L320.0,216.8 L325.0,219.2 L326.2,223.0 L323.8,225.5 L328.8,224.2 L332.5,228.0 L335.0,231.8 L340.0,235.5 L345.0,238.0 L352.5,241.8 L360.0,245.5 L363.8,248.0" fill="none" stroke="#000" stroke-width="0.85" stroke-linejoin="round"/>
<path d="M300.0,200.5 L303.8,205.5 L305.0,210.5 L307.5,206.8" fill="none" stroke="#000" stroke-width="0.85" stroke-linejoin="round"/>
<path d="M312.5,220.5 L317.5,223.0 L321.2,230.5 L322.5,225.5 L318.8,221.8 Z" fill="none" stroke="#000" stroke-width="0.85" stroke-linejoin="round"/>
<path d="M336.2,239.2 L345.0,240.5 L355.0,244.2 L362.5,248.0 L360.0,249.2 L350.0,245.5 L340.0,241.8 Z" fill="none" stroke="#000" stroke-width="0.85" stroke-linejoin="round"/>
<path d="M498.0,118.5 L515.5,120.5 L528.0,121.0 L540.5,121.8 L553.0,120.5 L563.0,119.2 L573.0,118.0" fill="none" stroke="#000" stroke-width="0.85" stroke-linejoin="round"/>
<path d="M570.5,125.5 L578.0,124.2 L588.0,125.5 L590.5,128.5 L583.0,130.5 L573.0,129.2 Z" fill="none" stroke="#000" stroke-width="0.85" stroke-linejoin="round"/>
<path d="M541.8,133.5 L543.5,128.0 L550.5,125.5 L565.5,125.5 L568.0,130.0 L563.0,131.8 L553.0,131.0 L545.5,130.5" fill="none" stroke="#000" stroke-width="0.85" stroke-linejoin="round"/>
<path d="M478.0,131.8 L488.0,129.2 L493.0,133.0 L485.5,135.5 L478.0,136.8" fill="none" stroke="#000" stroke-width="0.85" stroke-linejoin="round"/>
<path d="M478.0,143.0 L490.5,145.5 L498.0,148.0 L493.0,153.0 L488.0,155.0 L483.0,151.8 L478.0,150.5" fill="none" stroke="#000" stroke-width="0.85" stroke-linejoin="round"/>
<path d="M503.0,131.8 L513.0,133.0 L518.0,136.8 L515.5,140.5 L520.5,144.2 L528.0,148.0 L535.5,150.5 L538.0,155.5 L540.5,153.0 L545.5,148.0 L553.0,145.5 L560.5,143.0 L568.0,144.2 L573.0,143.0 L580.5,145.5 L588.0,146.8 L595.5,148.0 L600.5,149.2 L608.0,150.5 L610.5,155.5 L605.5,160.5 L600.5,164.2 L590.5,165.5 L583.0,166.8 L580.5,170.5 L588.0,171.8 L603.0,171.8 L615.5,174.2 L628.0,178.0 L638.0,181.0 L643.0,179.2 L635.5,176.0 L630.5,174.2" fill="none" stroke="#000" stroke-width="0.85" stroke-linejoin="round"/>
<path d="M523.0,131.8 L535.5,129.2 L553.0,127.5 L565.5,126.8 L578.0,128.0 L585.5,133.0 L588.0,138.0 L595.5,141.8" fill="none" stroke="#000" stroke-width="0.85" stroke-linejoin="round"/>
<path d="M598.0,133.5 L608.0,135.5 L618.0,138.0 L628.0,141.0 L638.0,143.0 L633.0,146.8 L633.5,150.5 L643.0,151.8 L653.0,155.5 L663.0,159.2 L664.2,163.0 L658.0,165.5 L648.0,166.8 L640.5,165.0 L636.0,163.0 L638.0,168.0 L643.5,171.0 L653.0,174.2 L663.0,175.5 L676.0,176.0" fill="none" stroke="#000" stroke-width="0.85" stroke-linejoin="round"/>
<path d="M586.8,155.5 L593.0,153.0 L599.2,155.0 L595.5,157.5 L589.2,157.5 Z" fill="none" stroke="#000" stroke-width="0.85" stroke-linejoin="round"/>
<path d="M539.2,171.8 L540.5,165.5 L545.5,163.0 L555.5,164.2 L565.5,168.0 L570.5,171.8 L563.0,174.2 L553.0,171.8 L545.5,174.2 Z" fill="none" stroke="#000" stroke-width="0.85" stroke-linejoin="round"/>
<path d="M555.5,180.5 L560.5,179.2 L563.5,180.5 L559.2,182.0 Z" fill="none" stroke="#000" stroke-width="0.85" stroke-linejoin="round"/>
<path d="M572.5,183.5 L575.5,181.8 L576.8,184.2 L574.2,185.5 Z" fill="none" stroke="#000" stroke-width="0.85" stroke-linejoin="round"/>
<path d="M573.8,211.8 L576.0,210.0 L577.5,212.0 L575.5,213.5 Z" fill="none" stroke="#000" stroke-width="0.85" stroke-linejoin="round"/>
<path d="M540.5,161.5 L537.5,165.2 L530.0,171.2 L521.0,177.2 L513.2,180.2 L505.8,184.8 L502.0,191.0 L501.2,197.0 L507.2,200.0 L511.8,203.0 L514.8,207.5 L522.5,208.2 L531.5,210.5 L540.5,213.5 L548.2,216.8 L561.8,218.2 L562.5,224.2 L563.2,228.8 L569.5,233.2 L574.0,236.5 L580.0,231.8 L580.8,225.8 L578.5,219.8 L584.5,215.2 L589.0,210.5 L587.5,203.0 L583.0,198.5 L580.8,194.0 L584.5,188.0 L583.0,183.2 L586.0,181.0 L595.2,180.2 L600.0,181.0 L610.5,185.5 L620.5,190.5 L625.5,198.5 L633.0,201.0 L643.0,196.0 L649.2,191.8 L653.0,196.0 L658.5,200.5 L664.2,206.0 L670.5,213.0 L676.0,216.8" fill="none" stroke="#000" stroke-width="0.85" stroke-linejoin="round"/>
<path d="M479.2,224.2 L483.0,225.5 L488.0,230.5 L493.0,235.5 L491.8,240.5 L488.0,238.0 L483.0,233.0 L480.5,228.0 Z" fill="none" stroke="#000" stroke-width="0.85" stroke-linejoin="round"/>
<path d="M478.0,233.5 L482.5,235.5 L483.5,240.5 L480.0,240.0 Z" fill="none" stroke="#000" stroke-width="0.85" stroke-linejoin="round"/>
<path d="M684.1,118.7 L689.5,122.0 L692.8,126.0 L692.1,131.4 L693.5,135.4 L698.8,136.1 L704.2,135.1 L707.5,137.4 L713.5,138.7 L714.9,140.8 L710.9,141.4 L704.2,139.4 L698.8,140.1 L697.5,144.8 L701.5,146.8 L708.2,146.1 L713.5,144.8 L716.2,146.1 L716.9,148.8 L713.5,150.1 L708.2,150.8 L704.2,152.8 L702.2,155.5 L702.8,159.5 L706.9,163.5 L710.9,167.5 L713.5,172.9 L717.6,176.9 L722.9,182.3 L729.6,187.6 L737.6,189.0 L744.3,191.6 L748.4,194.3" fill="none" stroke="#000" stroke-width="0.85" stroke-linejoin="round"/>
<path d="M594.0,131.0 L601.5,130.5 L604.5,134.5 L614.0,135.5 L624.0,138.0 L634.0,142.0 L632.0,146.8 L632.0,150.5 L644.0,153.0 L655.2,156.0 L664.5,158.5 L661.0,163.5 L654.0,165.5 L645.2,167.0 L639.0,165.5 L636.0,162.5 L637.0,161.0" fill="none" stroke="#000" stroke-width="0.85" stroke-linejoin="round"/>
<path d="M635.2,162.5 L644.0,166.0 L651.0,170.5 L649.5,176.0 L642.8,178.0 L636.5,176.8 L629.0,175.0 L621.5,173.5 L609.0,171.0 L599.0,169.5 L594.0,169.2" fill="none" stroke="#000" stroke-width="0.85" stroke-linejoin="round"/>
<path d="M594.0,148.5 L600.2,149.2 L609.0,155.0 L605.2,159.2 L599.0,160.5 L594.0,160.0" fill="none" stroke="#000" stroke-width="0.85" stroke-linejoin="round"/>
<path d="M359.5,248.8 L358.0,255.0 L357.0,261.2 L355.5,270.0 L354.0,280.0 L355.0,287.5 L357.5,292.5 L361.2,298.0 L365.0,303.0 L369.5,308.0 L374.5,314.5 L379.5,318.8 L383.8,322.5 L388.8,326.2 L392.5,331.2 L396.2,337.5 L401.2,345.0 L406.2,351.2 L411.2,357.5 L416.2,363.0 L421.2,367.0 L426.2,371.2 L428.0,374.5 L425.5,375.0 L421.2,370.0 L416.2,365.0 L412.5,359.5 L408.8,353.8 L405.0,347.5 L402.5,341.2 L400.5,336.2 L401.2,332.5 L405.0,333.0 L412.5,336.2 L420.0,341.2 L427.5,347.5 L432.5,355.0" fill="none" stroke="#000" stroke-width="0.85" stroke-linejoin="round"/>
<path d="M361.2,247.5 L363.0,250.0 L363.8,253.8 L362.0,255.5 L360.5,252.5 Z" fill="none" stroke="#000" stroke-width="2.0" stroke-linejoin="round"/>
<path d="M377.5,320.5 L379.0,321.0" fill="none" stroke="#000" stroke-width="0.85" stroke-linejoin="round"/>
<path d="M382.5,323.0 L384.0,323.5" fill="none" stroke="#000" stroke-width="0.85" stroke-linejoin="round"/>
<path d="M388.8,326.2 L395.5,327.0 L402.5,328.0 L405.0,333.0 L417.5,333.0 L430.0,333.0 L442.5,330.5 L450.0,336.2 L457.5,340.5 L465.0,343.0 L470.0,348.0 L475.0,353.0 L480.0,357.5 L485.5,360.5 L490.0,362.5" fill="none" stroke="#333" stroke-width="0.8" stroke-linejoin="round"/>
<path d="M645.5,263.8 L641.0,265.5 L637.0,266.8 L634.0,268.2 L631.0,269.5 L628.0,270.5 L624.8,271.8 L621.8,273.2 L620.0,274.8 L618.8,276.2 L618.5,278.2 L618.8,279.8 L620.0,280.8 L622.5,282.0 L621.8,284.2 L620.2,283.5 L618.0,282.8 L615.8,283.5 L612.8,284.5 L609.0,285.8 L605.2,286.5 L603.0,288.0 L601.5,288.8 L599.0,290.2 L597.5,292.5 L596.8,295.5 L595.5,300.0 L593.8,305.5 L595.5,310.8 L592.0,314.2 L586.5,318.5 L581.2,321.2 L576.0,324.8 L570.8,328.2 L568.0,332.0 L566.2,337.2 L565.8,344.2 L566.8,350.0 L569.2,355.0 L571.0,360.0 L570.5,365.0 L568.0,366.2 L564.2,362.5 L560.5,357.5 L558.0,350.0 L555.5,345.0 L553.0,341.2 L548.0,340.0 L543.0,339.5 L538.0,340.0 L533.0,340.5 L528.0,340.0 L523.0,339.5 L518.0,338.0 L513.0,339.5 L508.0,341.2 L503.0,342.5 L498.0,345.0 L493.0,347.5 L489.2,351.2 L486.8,357.5 L487.5,362.5" fill="none" stroke="#000" stroke-width="0.85" stroke-linejoin="round"/>
<path d="M588.0,290.0 L590.5,293.8 L589.2,298.8 L591.8,302.5 L590.5,307.5 L592.5,312.5" fill="none" stroke="#000" stroke-width="1.8" stroke-linejoin="round"/>
<path d="M594.2,293.8 L595.5,298.8 L593.5,302.5" fill="none" stroke="#000" stroke-width="1.5" stroke-linejoin="round"/>
<path d="M603.0,288.5 L608.0,287.0 L613.0,285.5 L616.0,284.5" fill="none" stroke="#000" stroke-width="1.6" stroke-linejoin="round"/>
<path d="M579.2,353.8 L580.8,354.8" fill="none" stroke="#000" stroke-width="2.0" stroke-linejoin="round"/>
<path d="M581.8,357.5 L583.2,358.5" fill="none" stroke="#000" stroke-width="2.0" stroke-linejoin="round"/>
<path d="M584.2,362.0 L585.8,363.0" fill="none" stroke="#000" stroke-width="2.0" stroke-linejoin="round"/>
<path d="M588.0,366.2 L589.5,367.2" fill="none" stroke="#000" stroke-width="2.0" stroke-linejoin="round"/>
<path d="M591.8,370.0 L593.2,371.0" fill="none" stroke="#000" stroke-width="2.0" stroke-linejoin="round"/>
<path d="M595.5,373.8 L597.0,374.8" fill="none" stroke="#000" stroke-width="2.0" stroke-linejoin="round"/>
<path d="M600.5,377.5 L602.0,378.5" fill="none" stroke="#000" stroke-width="2.0" stroke-linejoin="round"/>
<path d="M605.5,380.0 L607.0,381.0" fill="none" stroke="#000" stroke-width="2.0" stroke-linejoin="round"/>
<path d="M610.5,382.5 L612.0,383.5" fill="none" stroke="#000" stroke-width="2.0" stroke-linejoin="round"/>
<path d="M583.0,367.5 L584.5,368.5" fill="none" stroke="#000" stroke-width="2.0" stroke-linejoin="round"/>
<path d="M589.2,372.5 L590.8,373.5" fill="none" stroke="#000" stroke-width="2.0" stroke-linejoin="round"/>
<path d="M432.5,355.0 L431.2,363.8 L437.5,367.5 L443.8,373.8 L447.5,378.8 L449.0,383.8 L448.0,387.5 L451.2,391.2 L457.5,395.5 L465.0,399.5 L472.5,403.0 L480.0,406.2 L487.5,408.8 L495.0,409.5 L502.5,408.8 L507.5,411.2 L512.5,414.5 L518.8,417.5 L525.0,420.0 L532.5,422.5 L537.5,425.0 L541.2,428.8 L543.8,433.8 L545.0,438.8" fill="none" stroke="#000" stroke-width="0.85" stroke-linejoin="round"/>
<path d="M487.5,361.2 L486.2,367.5 L485.0,375.0 L486.2,380.0 L490.0,386.2 L495.0,392.5 L500.0,396.2 L505.0,398.0 L512.5,397.5 L518.8,395.5 L521.2,390.0 L522.5,386.2 L527.5,383.8 L535.0,382.5 L540.0,383.0 L537.5,388.8 L536.2,393.8 L533.8,397.5 L532.5,402.5 L531.2,407.5 L535.0,410.0 L542.5,411.2 L550.0,412.5 L555.0,415.0 L556.2,422.5 L555.0,430.0 L557.5,438.8" fill="none" stroke="#000" stroke-width="0.85" stroke-linejoin="round"/>
<path d="M558.8,380.0 L560.0,379.5 L560.8,381.5 L559.0,381.8 Z" fill="none" stroke="#000" stroke-width="0.85" stroke-linejoin="round"/>
<path d="M425.0,372.0 L427.5,374.0 L426.5,375.0 L424.5,373.0" fill="none" stroke="#000" stroke-width="0.85" stroke-linejoin="round"/>
<path d="M636.2,397.0 L642.5,397.0 L643.8,398.8 L637.0,399.5 Z" fill="none" stroke="#000" stroke-width="0.85" stroke-linejoin="round"/>
<path d="M662.5,407.5 L664.5,408.5" fill="none" stroke="#000" stroke-width="1.8" stroke-linejoin="round"/>
<path d="M666.2,415.0 L667.2,416.0" fill="none" stroke="#000" stroke-width="1.5" stroke-linejoin="round"/>
<path d="M595.0,438.8 L597.5,434.5 L603.8,433.0 L610.0,430.5 L613.8,427.0 L616.2,428.8 L615.0,433.8 L618.8,431.2 L623.8,428.8 L627.5,428.0 L630.0,433.8 L635.0,436.2 L642.5,437.5 L650.0,436.2 L657.5,435.5 L662.5,436.2 L666.2,435.0 L667.5,438.8" fill="none" stroke="#000" stroke-width="0.85" stroke-linejoin="round"/>
<path d="M549.5,380.4 L552.6,377.6 L556.4,375.7 L561.5,374.5 L566.5,375.1 L571.6,377.0 L576.6,378.9 L581.7,380.8 L588.0,382.7 L593.0,384.6 L598.1,386.5 L601.9,388.4 L599.3,389.6 L593.0,390.3 L586.7,390.3 L584.8,388.4 L581.7,385.8 L577.9,383.3 L574.1,381.4 L570.3,380.2 L565.3,378.3 L562.7,377.6 L558.9,378.9 L555.2,379.5 L551.4,380.4 Z" fill="none" stroke="#000" stroke-width="0.85" stroke-linejoin="round"/>
<path d="M558.3,380.4 L560.2,380.2 L560.8,381.8 L558.9,382.0 Z" fill="none" stroke="#000" stroke-width="0.85" stroke-linejoin="round"/>
<path d="M581.7,398.5 L584.2,397.2 L589.2,397.6 L591.8,399.1 L588.0,400.4 L583.6,399.7 Z" fill="none" stroke="#000" stroke-width="0.85" stroke-linejoin="round"/>
<path d="M600.6,397.2 L604.4,396.3 L608.2,397.2 L605.7,390.3 L610.7,389.6 L615.8,390.3 L620.8,391.5 L623.3,392.8 L627.1,394.0 L629.6,395.9 L630.3,398.5 L627.1,398.5 L623.3,397.8 L618.3,398.5 L615.8,401.0 L613.2,399.7 L609.4,398.5 L604.4,398.8 L601.2,398.5 Z" fill="none" stroke="#000" stroke-width="0.85" stroke-linejoin="round"/>
<path d="M179.5,380.2 L181.7,378.9 L183.6,378.6 L183.8,380.0 L182.3,380.2" fill="none" stroke="#000" stroke-width="1.2" stroke-linejoin="round"/>
<path d="M189.3,381.7 L190.5,381.1 L191.8,382.4 L190.8,383.4 L189.3,382.8 Z" fill="none" stroke="#000" stroke-width="1.3" stroke-linejoin="round"/>
<path d="M194.3,383.6 L196.5,384.3" fill="none" stroke="#999" stroke-width="0.8" stroke-linejoin="round"/>
<path d="M197.1,385.2 L198.7,384.6 L200.3,385.8 L199.0,386.8 L197.5,386.3 Z" fill="none" stroke="#000" stroke-width="1.3" stroke-linejoin="round"/>
<path d="M200.6,388.4 L202.8,389.0 L205.7,391.5 L202.8,393.4 L201.6,394.4 L200.2,391.5 Z" fill="none" stroke="#000" stroke-width="1.2" stroke-linejoin="round"/>
<path d="M594.0,179.2 L604.0,181.0 L614.0,184.2 L621.0,188.0 L625.2,193.0 L631.0,199.2 L639.0,200.5 L644.0,196.0 L648.2,191.8 L654.0,197.0 L659.5,203.5 L664.5,208.5 L665.2,213.0 L669.5,215.0 L675.2,217.5 L681.0,220.0 L684.5,223.5 L689.5,226.0 L692.8,230.0 L692.0,233.5" fill="none" stroke="#000" stroke-width="0.85" stroke-linejoin="round"/>
<path d="M590.8,271.3 L597.0,268.5 L604.9,263.9 L610.0,261.0 L616.8,257.5" fill="none" stroke="#000" stroke-width="1.1" stroke-linejoin="round"/>
<path d="M677.0,251.1 L679.2,248.0 L684.5,244.2 L688.3,240.5 L691.4,237.0 L693.3,234.4 L693.6,238.2 L696.7,242.7 L700.0,245.0" fill="none" stroke="#000" stroke-width="0.85" stroke-linejoin="round"/>
<path d="M675.8,252.1 L683.0,253.6 L690.6,255.2 L698.2,256.4 L701.2,255.8" fill="none" stroke="#000" stroke-width="0.85" stroke-linejoin="round"/>
<path d="M617.1,257.0 L620.6,253.9 L625.0,250.3 L630.3,246.8 L635.6,244.1 L638.3,241.5 L641.8,240.4 L649.8,240.2 L656.0,240.6 L663.1,241.3 L671.9,241.1 L675.4,238.8 L680.0,235.3 L685.2,231.8" fill="none" stroke="#000" stroke-width="0.85" stroke-linejoin="round"/>
<path d="M617.1,257.0 L621.5,253.9 L626.8,250.8 L632.1,247.7 L636.5,246.4 L641.8,245.7 L646.3,245.5 L649.3,246.4 L650.7,248.1 L649.3,249.6 L646.3,250.8 L641.8,251.2 L640.5,251.4 L642.7,252.1 L645.4,252.8 L647.1,254.3 L647.6,256.5 L648.9,258.3 L651.6,259.6 L655.1,260.2 L658.6,260.5 L662.2,260.5 L664.8,258.3 L668.4,256.5 L671.9,261.4 L666.6,263.6 L661.3,265.4 L656.0,267.6 L651.6,269.8 L647.1,272.0 L644.0,273.5 L641.8,271.6 L643.2,268.9 L646.3,265.8 L649.3,264.3 L650.8,263.8" fill="none" stroke="#000" stroke-width="0.85" stroke-linejoin="round"/>
<path d="M650.2,242.8 L654.2,243.3 L659.5,244.6 L663.1,246.4 L659.5,246.4 L655.1,245.0 L650.7,243.3 Z" fill="none" stroke="#000" stroke-width="0.85" stroke-linejoin="round"/>
<path d="M610.0,266.3 L615.3,265.4 L618.0,263.6 L620.6,260.1 L623.3,255.6 L626.8,254.3 L631.2,255.2 L633.4,255.6 L633.9,260.1 L635.2,263.6 L636.5,265.4 L637.4,267.1" fill="none" stroke="#000" stroke-width="0.8" stroke-linejoin="round"/>
<path d="M615.3,265.4 L616.6,270.7 L617.1,276.0" fill="none" stroke="#444" stroke-width="0.7" stroke-linejoin="round"/>
<path d="M510.0,248.4 L514.5,250.1 L520.2,251.2 L524.8,250.7 L528.2,249.5 L531.6,247.8 L533.9,246.7 L537.3,247.3 L540.7,247.8 L543.0,249.5 L544.1,251.8 L546.4,253.0 L548.6,252.4 L550.9,254.7 L552.0,257.5 L552.0,259.8 L548.6,258.6 L543.0,259.2 L538.4,258.9 L534.4,256.4 L532.7,255.0 L528.2,255.8 L524.8,257.3 L519.1,258.1 L514.5,258.4 L511.1,260.9" fill="none" stroke="#000" stroke-width="1.3" stroke-linejoin="round"/>
<path d="M546.4,263.2 L544.1,265.7 L543.0,268.9 L542.4,273.4 L541.8,277.4 L539.8,281.4 L537.8,283.1 L535.9,281.1 L534.4,275.7 L534.4,268.3 L536.4,264.9 L538.6,263.0" fill="none" stroke="#000" stroke-width="1.3" stroke-linejoin="round"/>
<path d="M547.5,262.0 L553.2,263.2 L556.6,265.2 L557.7,267.7 L555.5,272.3 L556.6,274.8 L558.6,277.0 L560.0,279.1" fill="none" stroke="#000" stroke-width="1.3" stroke-linejoin="round"/>
<path d="M553.2,260.9 L557.7,260.9 L563.4,262.0 L569.1,262.0 L572.5,264.3 L574.8,267.7 L571.9,268.9 L568.0,267.7 L565.7,266.0 L564.5,268.3 L563.4,272.3 L561.7,276.8 L560.0,279.1" fill="none" stroke="#000" stroke-width="1.3" stroke-linejoin="round"/>
<path d="M557.7,281.6 L561.1,279.3 L565.7,278.5 L570.2,278.0 L574.8,276.8 L578.2,275.7 L577.0,277.4 L572.5,279.1 L566.8,280.8 L562.3,282.5 L558.9,283.2 Z" fill="none" stroke="#000" stroke-width="1.3" stroke-linejoin="round"/>
<path d="M574.8,273.4 L579.3,271.7 L585.0,270.6 L589.5,270.2 L591.8,272.0 L588.4,273.4 L582.7,274.3 L578.2,274.8 L575.3,274.8 Z" fill="none" stroke="#000" stroke-width="1.3" stroke-linejoin="round"/>
<path d="M591.8,271.4 L596.4,268.0 L600.9,265.5" fill="none" stroke="#000" stroke-width="1.3" stroke-linejoin="round"/>
<path d="M357.5,260.2 L362.4,260.7 L367.3,263.4 L372.2,263.2 L379.6,261.9 L382.1,261.4 L392.4,261.4 M391.7,246.7 L391.7,259.3 M392.4,261.4 L394.3,263.9 L392.9,267.3 L390.9,269.8 L391.7,272.2 L391.7,281.1 M356.5,281.1 L421.1,281.1 M377.2,281.1 L377.2,295.8 L403.5,315.5 M403.5,315.5 L403.7,310.6 L406.4,309.6 L406.4,305.7 M403.5,315.5 L404.7,318.0 L403.2,322.9 L403.2,326.8 M406.4,281.1 L406.4,305.7 M406.4,305.7 L501.8,305.7 M396.6,246.7 L396.6,252.1 L398.3,254.6 L403.7,258.5 L405.2,263.9 L409.1,266.4 L413.0,268.8 L421.1,268.8 M421.1,268.8 L421.1,286.0 M421.1,286.0 L465.3,286.0 M430.9,286.0 L430.9,333.5 M421.1,266.4 L455.5,266.4 M455.5,246.7 L455.5,286.0 M465.3,286.0 L465.3,305.7 M460.6,305.7 L460.6,330.2 M443.0,330.2 L460.6,330.2 M460.6,308.1 L475.4,308.1 L475.4,317.7 M475.4,317.7 L480.3,319.4 L485.2,319.9 L490.1,321.4 L495.0,321.2 L499.9,320.9 L504.6,322.6 M504.6,322.6 L504.6,325.3 L504.6,330.2 L505.8,335.2 L506.3,339.6 L505.6,341.5 M501.8,305.7 L502.7,313.5 L502.5,322.2 M455.5,261.7 L492.3,261.7 M455.5,276.2 L482.7,276.2 L490.1,277.2 L492.1,278.6 M465.3,290.9 L498.5,290.9 M489.1,246.7 L491.1,256.5 L492.1,261.4 L492.3,261.7 M492.3,261.7 L492.8,264.9 L492.8,273.7 L492.1,278.6 M492.8,273.7 L518.6,273.7 M492.1,278.6 L495.0,283.6 L495.5,286.0 L496.0,288.0 L498.5,290.9 L500.4,292.4 L501.9,295.3 L501.8,305.7 M496.0,288.0 L516.1,288.0 L517.6,289.0 M501.8,308.1 L523.8,308.1 L524.0,310.6 L526.0,310.6 M504.6,325.3 L518.8,325.3 M514.2,258.0 L513.2,261.4 L510.7,263.9 L511.2,267.3 L518.6,273.7 M518.6,273.7 L519.1,277.7 L521.5,278.6 L523.5,282.1 L519.6,285.0 L517.6,289.0 L521.1,295.8 L523.5,297.8 L526.9,304.2 L528.4,305.7 L526.9,308.1 L526.0,310.6 L524.0,315.5 L521.5,318.0 L519.1,322.9 L518.8,325.3 L519.1,330.2 L516.6,335.2 L525.5,335.2 L526.5,339.1 M521.3,278.6 L535.3,278.6 M522.5,258.6 L530.9,261.4 L536.3,265.9 M536.8,282.3 L536.8,293.9 L536.3,297.3 L534.3,300.8 L533.8,303.2 M550.0,282.6 L550.0,295.3 M536.8,282.3 L550.0,282.6 L556.4,282.6 M528.4,305.7 L533.8,303.2 L536.3,301.2 L541.7,300.8 L545.1,299.3 L550.0,295.3 L554.0,296.8 L558.9,297.3 L560.8,298.8 L563.8,295.8 L566.2,293.9 L570.2,290.9 L571.1,288.0 M571.0,281.1 L571.0,292.3 M571.0,292.3 L594.2,292.3 M574.8,281.1 L596.4,281.1 M526.9,308.1 L534.3,308.1 L555.4,307.6 L565.3,307.6 L593.7,307.9 M523.0,315.5 L552.5,315.5 M552.5,315.5 L558.4,315.5 L561.8,314.5 L568.7,314.8 L569.7,316.5 L575.1,316.5 L581.0,321.2 M533.3,315.5 L532.3,320.4 L532.3,338.1 M546.1,315.5 L548.1,325.8 L549.0,330.2 L548.8,335.2 M536.3,338.6 L536.3,335.2 L549.0,335.2 L549.5,336.6 L562.8,337.1 L563.8,336.1 L566.2,336.6 M558.4,315.5 L561.3,318.0 L564.3,321.9 L566.7,326.8 L569.2,330.0 M560.8,298.8 L563.8,303.2 L565.3,304.7 L555.4,307.6 M563.8,303.2 L572.1,300.8 L576.1,298.3 L581.5,294.4 L584.4,294.4 M576.1,294.9 L585.9,294.9 L588.3,296.8 L591.8,300.8 M594.2,292.3 L594.2,298.5 L597.9,298.5 M596.4,281.1 L598.2,283.6 L597.7,288.0 L599.1,289.9 L595.7,292.4 M596.4,284.3 L603.1,286.0 M606.3,266.4 L606.5,273.2 L606.7,277.4 L605.5,280.8 L605.5,284.5 L604.5,285.5 M615.3,266.4 L610.4,273.2 L610.4,277.5 M606.7,277.4 L616.3,277.7 L618.8,276.8 M605.5,280.8 L613.9,281.1 L615.8,281.1 L615.8,283.6 M613.9,281.1 L613.9,284.5 M617.4,264.9 L617.9,273.7 L619.3,275.7" fill="none" stroke="#222" stroke-width="0.8" stroke-linejoin="round"/>
<path d="M361.0,246.7 L499.2,246.7 L499.2,244.8 L500.9,245.2 L506.3,248.7 L514.7,250.1 L524.5,251.1 L526.9,251.6 M599.6,266.4 L615.3,266.4" fill="none" stroke="#555" stroke-width="1.0" stroke-linejoin="round"/></g><path d="M82.5 118.30000000000001V438.9" stroke="#000" stroke-width="1.05" fill="none"/><path d="M745.5 118.30000000000001V438.9" stroke="#111" stroke-width="1.0" fill="none"/><path d="M82.0 119H746.0" stroke="#000" stroke-width="1.25" fill="none"/><path d="M82.0 438.5H746.0" stroke="#111" stroke-width="1.0" fill="none"/><path d="M82.5 118.9V108.4M82.5 438.4V448.9M131.6 118.9V113.4M131.6 438.4V443.9M180.7 118.9V113.4M180.7 438.4V443.9M229.8 118.9V108.4M229.8 438.4V448.9M278.9 118.9V113.4M278.9 438.4V443.9M328.0 118.9V113.4M328.0 438.4V443.9M377.2 118.9V108.4M377.2 438.4V448.9M426.3 118.9V113.4M426.3 438.4V443.9M475.4 118.9V113.4M475.4 438.4V443.9M524.5 118.9V108.4M524.5 438.4V448.9M573.6 118.9V113.4M573.6 438.4V443.9M622.7 118.9V113.4M622.7 438.4V443.9M671.8 118.9V108.4M671.8 438.4V448.9M720.9 118.9V113.4M720.9 438.4V443.9M82.5 438.4H77.0M745.5 438.4H751.0M82.5 389.2H77.0M745.5 389.2H751.0M82.5 340.1H72.0M745.5 340.1H756.0M82.5 290.9H77.0M745.5 290.9H751.0M82.5 241.8H77.0M745.5 241.8H751.0M82.5 192.6H72.0M745.5 192.6H756.0M82.5 143.5H77.0M745.5 143.5H751.0" stroke="#000" stroke-width="1.1" fill="none"/><g font-family="Liberation Sans, sans-serif" fill="#000"><text x="413.8" y="75" font-size="23.8" font-weight="bold" text-anchor="middle">CRCM-ccsm Change in Seasonal Avg Precip</text><text x="81.8" y="103" font-size="11.6">JJA</text><text x="413.7" y="103" font-size="11.4" text-anchor="middle">2041-2070 minus 1971-2000</text><text x="746.3" y="103" font-size="11.6" text-anchor="end">%</text><text x="62.2" y="198.4" font-size="14.8" text-anchor="end">60N</text><text x="62.2" y="345.8" font-size="14.8" text-anchor="end">30N</text><text x="82.5" y="470.6" font-size="14.8" text-anchor="middle">180</text><text x="229.8" y="470.6" font-size="14.8" text-anchor="middle">150W</text><text x="377.2" y="470.6" font-size="14.8" text-anchor="middle">120W</text><text x="524.5" y="470.6" font-size="14.8" text-anchor="middle">90W</text><text x="671.8" y="470.6" font-size="14.8" text-anchor="middle">60W</text></g><rect x="169.80" y="483.1" width="35.10" height="28.4" fill="#33210A"/><rect x="204.60" y="483.1" width="35.10" height="28.4" fill="#6D4418"/><rect x="239.40" y="483.1" width="35.10" height="28.4" fill="#AD6A38"/><rect x="274.20" y="483.1" width="35.10" height="28.4" fill="#C88F53"/><rect x="309.00" y="483.1" width="35.10" height="28.4" fill="#DDB57A"/><rect x="343.80" y="483.1" width="35.10" height="28.4" fill="#F3D0AE"/><rect x="378.60" y="483.1" width="35.10" height="28.4" fill="#F3F3DC"/><rect x="413.40" y="483.1" width="35.10" height="28.4" fill="#C8FFFF"/><rect x="448.20" y="483.1" width="35.10" height="28.4" fill="#78FFFF"/><rect x="483.00" y="483.1" width="35.10" height="28.4" fill="#00EBFF"/><rect x="517.80" y="483.1" width="35.10" height="28.4" fill="#00BEFF"/><rect x="552.60" y="483.1" width="35.10" height="28.4" fill="#0066FF"/><rect x="587.40" y="483.1" width="35.10" height="28.4" fill="#0000FF"/><rect x="622.20" y="483.1" width="35.10" height="28.4" fill="#00008C"/><g font-family="Liberation Sans, sans-serif" font-size="11.6" text-anchor="middle" fill="#000"><text x="204.6" y="528.5">-50</text><text x="239.4" y="528.5">-40</text><text x="274.2" y="528.5">-30</text><text x="309.0" y="528.5">-20</text><text x="343.8" y="528.5">-10</text><text x="378.6" y="528.5">-5</text><text x="413.4" y="528.5">0</text><text x="448.2" y="528.5">5</text><text x="483.0" y="528.5">10</text><text x="517.8" y="528.5">20</text><text x="552.6" y="528.5">30</text><text x="587.4" y="528.5">40</text><text x="622.2" y="528.5">50</text></g></svg></body></html>
